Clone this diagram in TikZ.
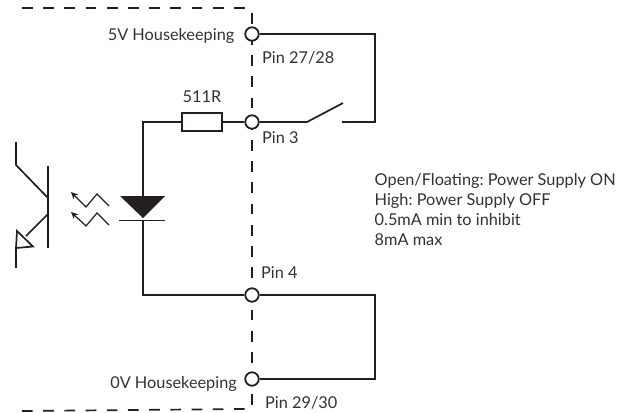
\documentclass[tikz,border=0pt]{standalone}
\usepackage{fontspec}
\setmainfont{Lato}
\usetikzlibrary{arrows.meta}
\definecolor{ink}{HTML}{231F20}
\definecolor{textink}{HTML}{333132}
\tikzset{
  x=1pt,y=-1pt,
  wire/.style={draw=ink,line width=1.7pt,line join=miter},
  bound/.style={draw=ink,line width=1.7pt,dash pattern=on 10.7pt off 10.5pt},
  pin/.style={circle,draw=ink,line width=1.8pt,fill=white,minimum size=13.5pt,inner sep=0pt},
  lab/.style={text=textink,font=\fontsize{16.3pt}{20pt}\selectfont,inner sep=0pt},
  ray/.style={draw=ink,line width=1.2pt,-{Stealth[length=7pt,width=6.5pt]}},
}
\begin{document}
\frenchspacing
\begin{tikzpicture}
\useasboundingbox (0,0) rectangle (633,413);
% coordinates
\coordinate (bt0) at (22,8); \coordinate (bt1) at (245,8);
\coordinate (bv0) at (252,12.8); \coordinate (bv1) at (252,405.6);
\coordinate (bb0) at (22,411); \coordinate (bb1) at (245,409);
% boundary
\draw[bound] (bt0) -- (bt1);
\draw[bound] (bb0) -- (bb1);
\draw[bound] (bv0) -- (bv1);
% pins
\node[pin] (p5) at (252,34) {};
\node[pin] (p3) at (252,122) {};
\node[pin] (p4) at (252,295) {};
\node[pin] (p0) at (252,379) {};
% resistor
\node[draw=ink,line width=1.7pt,fill=white,minimum width=40pt,minimum height=18pt,inner sep=0pt] (res) at (202,122) {};
% diode
\coordinate (dtop) at (143,196); \coordinate (dbot) at (143,220);
\coordinate (dcorner) at (143,122); \coordinate (gcorner) at (143,295);
\fill[ink] (120,196) -- (165,196) -- (143,218) -- cycle;
\draw[wire] (119,220.5) -- (165,220.5);
\draw[wire] (res.west) -- (dcorner) -- (dtop);
\draw[wire] (dbot) -- (gcorner) -- (p4.west);
\draw[wire] (res.east) -- (p3.west);
% switch
\coordinate (sw0) at (307,122); \coordinate (sw1) at (343,103); \coordinate (sw2) at (342,122);
\coordinate (r5a) at (375,34); \coordinate (r5b) at (375,122);
\coordinate (r0a) at (375,295); \coordinate (r0b) at (375,379);
\draw[wire] (p3.east) -- (sw0) -- (sw1);
\draw[wire] (p5.east) -- (r5a) -- (r5b) -- (sw2);
\draw[wire] (p4.east) -- (r0a) -- (r0b) -- (p0.east);
% transistor
\draw[wire] (48,166) -- (48,248);
\draw[wire] (16,142) -- (16,165) -- (48,198);
\draw[wire] (48,214) -- (26,236);
\draw[draw=ink,line width=1.7pt,fill=white] (17,231) -- (33,246.5) -- (16,248) -- cycle;
\draw[wire] (16,248) -- (16,268);
% light rays
\draw[ray] (109,206) -- (97,194) -- (86,207) -- (71,192);
\draw[ray] (109,225) -- (97,213) -- (86,226) -- (71,212);
% labels
\node[lab,anchor=base east] (l5) at (234.5,40) {5V Housekeeping};
\node[lab,anchor=base east] (l0) at (237,388) {0V Housekeeping};
\node[lab,anchor=base west] (l27) at (262,63) {Pin 27/28};
\node[lab,anchor=base west] (l3) at (262,143) {Pin 3};
\node[lab,anchor=base west] (l4) at (261,278.5) {Pin 4};
\node[lab,anchor=base west] (l29) at (265,408.5) {Pin 29/30};
\node[lab,anchor=base] (lr) at (202,102) {511R};
\node[lab,anchor=north west,align=left] (note) at (374.5,173) {Open/Floating: Power Supply ON\\High: Power Supply OFF\\0.5mA min to inhibit\\8mA max};
\end{tikzpicture}
\end{document}
